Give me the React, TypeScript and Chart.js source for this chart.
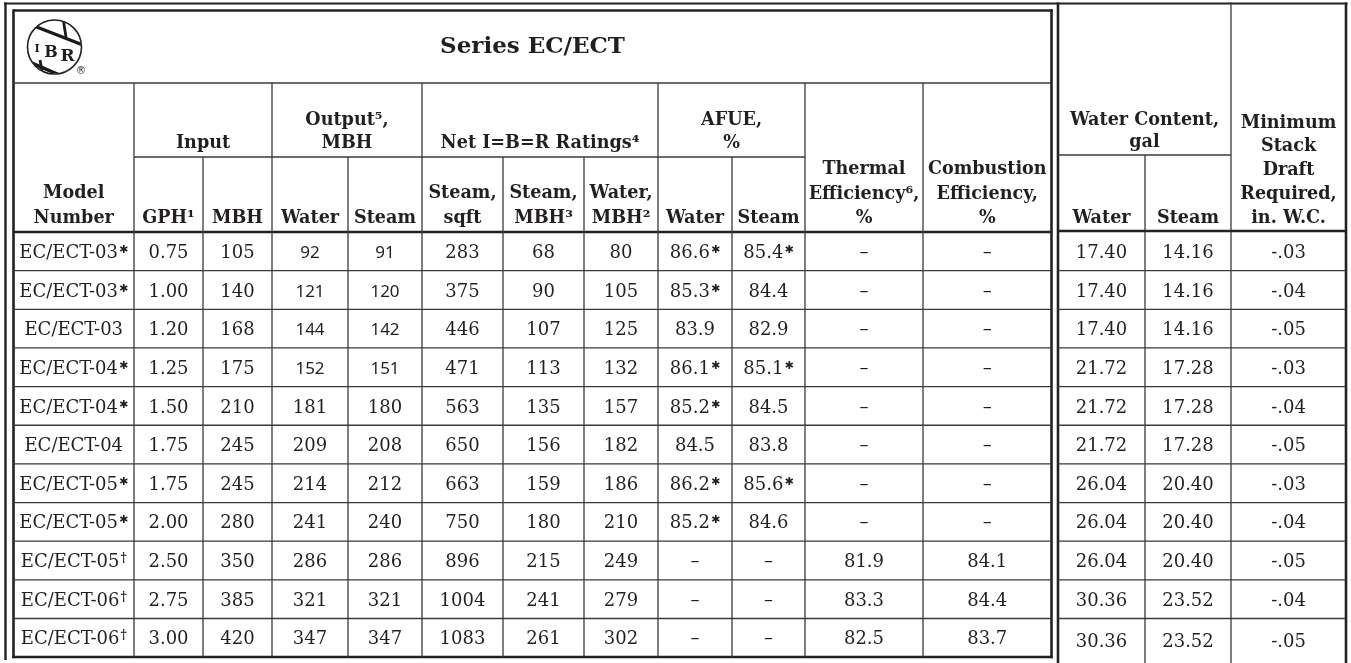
import React, { useEffect, useRef } from "react";
import { Chart, registerables } from "chart.js";

Chart.register(...registerables);

const W = 1351;
const H = 663;

// ---------- data ----------
const models = ["EC/ECT-03", "EC/ECT-03", "EC/ECT-03", "EC/ECT-04", "EC/ECT-04", "EC/ECT-04", "EC/ECT-05", "EC/ECT-05", "EC/ECT-05", "EC/ECT-06", "EC/ECT-06"];
const modelMarks = ["✱", "✱", "", "✱", "✱", "", "✱", "✱", "†", "†", "†"];
const inputGph = [0.75, 1.0, 1.2, 1.25, 1.5, 1.75, 1.75, 2.0, 2.5, 2.75, 3.0];
const inputMbh = [105, 140, 168, 175, 210, 245, 245, 280, 350, 385, 420];
const outputWater = [92, 121, 144, 152, 181, 209, 214, 241, 286, 321, 347];
const outputSteam = [91, 120, 142, 151, 180, 208, 212, 240, 286, 321, 347];
const netSteamSqft = [283, 375, 446, 471, 563, 650, 663, 750, 896, 1004, 1083];
const netSteamMbh = [68, 90, 107, 113, 135, 156, 159, 180, 215, 241, 261];
const netWaterMbh = [80, 105, 125, 132, 157, 182, 186, 210, 249, 279, 302];
const afueWater: (number | null)[] = [86.6, 85.3, 83.9, 86.1, 85.2, 84.5, 86.2, 85.2, null, null, null];
const afueWaterMarks = ["✱", "✱", "", "✱", "✱", "", "✱", "✱", "", "", ""];
const afueSteam: (number | null)[] = [85.4, 84.4, 82.9, 85.1, 84.5, 83.8, 85.6, 84.6, null, null, null];
const afueSteamMarks = ["✱", "", "", "✱", "", "", "✱", "", "", "", ""];
const thermalEff: (number | null)[] = [null, null, null, null, null, null, null, null, 81.9, 83.3, 82.5];
const combustionEff: (number | null)[] = [null, null, null, null, null, null, null, null, 84.1, 84.4, 83.7];
const waterContentWater = [17.4, 17.4, 17.4, 21.72, 21.72, 21.72, 26.04, 26.04, 26.04, 30.36, 30.36];
const waterContentSteam = [14.16, 14.16, 14.16, 17.28, 17.28, 17.28, 20.4, 20.4, 20.4, 23.52, 23.52];
const stackDraft = [-0.03, -0.04, -0.05, -0.03, -0.04, -0.05, -0.03, -0.04, -0.05, -0.04, -0.05];

const title = "Series EC/ECT";

// ---------- layout (table units = px) ----------
const L_COLS = [13.5, 134, 203, 272, 348, 422, 503, 584, 658, 732, 805, 923, 1051.5];
const R_COLS = [1058, 1145, 1231, 1346];
const TITLE_BOTTOM = 83;
const GROUP_LINE = 157;
const HEAD_BOTTOM = 232;
const R_GROUP_LINE = 155;
const R_HEAD_BOTTOM = 231;
const ROW_H = 38.65;
const NROWS = models.length;

const INK = "#231f20";
const GRID = "#3a3a3a";
const HFONT = "bold 17.6px 'DejaVu Serif'";
const BFONT = "18px 'DejaVu Serif'";
const SANSFONT = "17px 'Noto Sans'";
const STARFONT = "bold 11px 'DejaVu Sans'";
const DAGGERFONT = "bold 12px 'DejaVu Serif'";

type HeadCell = { x0: number; x1: number; lines: string[]; base: number[] };
const headerCells: HeadCell[] = [
  { x0: L_COLS[0], x1: L_COLS[1], lines: ["Model", "Number"], base: [198, 223] },
  { x0: L_COLS[1], x1: L_COLS[3], lines: ["Input"], base: [148] },
  { x0: L_COLS[1], x1: L_COLS[2], lines: ["GPH¹"], base: [223] },
  { x0: L_COLS[2], x1: L_COLS[3], lines: ["MBH"], base: [223] },
  { x0: L_COLS[3], x1: L_COLS[5], lines: ["Output⁵,", "MBH"], base: [125, 148] },
  { x0: L_COLS[3], x1: L_COLS[4], lines: ["Water"], base: [223] },
  { x0: L_COLS[4], x1: L_COLS[5], lines: ["Steam"], base: [223] },
  { x0: L_COLS[5], x1: L_COLS[8], lines: ["Net I=B=R Ratings⁴"], base: [148] },
  { x0: L_COLS[5], x1: L_COLS[6], lines: ["Steam,", "sqft"], base: [198, 223] },
  { x0: L_COLS[6], x1: L_COLS[7], lines: ["Steam,", "MBH³"], base: [198, 223] },
  { x0: L_COLS[7], x1: L_COLS[8], lines: ["Water,", "MBH²"], base: [198, 223] },
  { x0: L_COLS[8], x1: L_COLS[10], lines: ["AFUE,", "%"], base: [125, 148] },
  { x0: L_COLS[8], x1: L_COLS[9], lines: ["Water"], base: [223] },
  { x0: L_COLS[9], x1: L_COLS[10], lines: ["Steam"], base: [223] },
  { x0: L_COLS[10], x1: L_COLS[11], lines: ["Thermal", "Efficiency⁶,", "%"], base: [174, 199, 223] },
  { x0: L_COLS[11], x1: L_COLS[12], lines: ["Combustion", "Efficiency,", "%"], base: [174, 199, 223] },
  { x0: R_COLS[0], x1: R_COLS[2], lines: ["Water Content,", "gal"], base: [125, 147] },
  { x0: R_COLS[0], x1: R_COLS[1], lines: ["Water"], base: [223] },
  { x0: R_COLS[1], x1: R_COLS[2], lines: ["Steam"], base: [223] },
  { x0: R_COLS[2], x1: R_COLS[3], lines: ["Minimum", "Stack", "Draft", "Required,", "in. W.C."], base: [128, 151, 175, 199, 223] },
];

const fmtDash = (v: number | null, d: number) => (v === null ? "–" : v.toFixed(d));
const fmtDraft = (v: number) => v.toFixed(2).replace("0.", ".");

const tablePlugin = {
  id: "specTable",
  beforeDraw(chart: any) {
    const ctx = chart.ctx;
    ctx.save();
    ctx.fillStyle = "#ffffff";
    ctx.fillRect(0, 0, chart.width, chart.height);
    ctx.restore();
  },
  afterDraw(chart: any) {
    const ctx: CanvasRenderingContext2D = chart.ctx;
    const xs = chart.scales.x;
    const ys = chart.scales.y;
    const px = (v: number) => xs.getPixelForValue(v);
    const py = (v: number) => ys.getPixelForValue(v);

    const line = (x0: number, y0: number, x1: number, y1: number, lw: number, color = GRID) => {
      ctx.beginPath();
      ctx.strokeStyle = color;
      ctx.lineWidth = lw;
      ctx.moveTo(px(x0), py(y0));
      ctx.lineTo(px(x1), py(y1));
      ctx.stroke();
    };
    const text = (s: string, cx: number, base: number, font: string) => {
      ctx.font = font;
      ctx.fillStyle = INK;
      ctx.textAlign = "center";
      ctx.textBaseline = "alphabetic";
      ctx.fillText(s, px(cx), py(base));
    };
    const markedText = (s: string, mark: string, cx: number, base: number, font: string) => {
      ctx.textBaseline = "alphabetic";
      ctx.fillStyle = INK;
      ctx.font = font;
      const w1 = ctx.measureText(s).width;
      const mFont = mark === "†" ? DAGGERFONT : STARFONT;
      const raise = 5;
      ctx.font = mFont;
      const w2 = mark ? ctx.measureText(mark).width + 1 : 0;
      const start = px(cx) - (w1 + w2) / 2;
      ctx.textAlign = "left";
      ctx.font = font;
      ctx.fillText(s, start, py(base));
      if (mark) {
        ctx.font = mFont;
        ctx.fillText(mark, start + w1 + 1, py(base) - raise);
      }
    };

    ctx.save();

    // ---------- frames ----------
    ctx.lineCap = "butt";
    line(4, 3.5, 1347.5, 3.5, 2.2, "#222");
    line(5.5, 2.5, 5.5, 660, 2.4, "#222");
    line(L_COLS[0], 10.5, L_COLS[12] + 1.2, 10.5, 2.4, "#222");
    line(L_COLS[0], 9.3, L_COLS[0], 658.2, 2.6, "#222");
    line(L_COLS[12], 9.3, L_COLS[12], 658.2, 2.6, "#222");
    line(L_COLS[0] - 1.2, 657, L_COLS[12] + 1.2, 657, 2.6, "#222");
    line(R_COLS[0], 2.5, R_COLS[0], H, 2.6, "#222");
    line(R_COLS[3], 2.5, R_COLS[3], H, 2.6, "#222");

    // ---------- left table grid ----------
    line(L_COLS[0], TITLE_BOTTOM, L_COLS[12], TITLE_BOTTOM, 1.3);
    line(L_COLS[1], GROUP_LINE, L_COLS[10], GROUP_LINE, 1.3);
    line(L_COLS[0], HEAD_BOTTOM, L_COLS[12], HEAD_BOTTOM, 2.4, "#222");
    const groupStarts = [1, 3, 5, 8, 10, 11];
    for (let c = 1; c < 12; c++) {
      const top = groupStarts.includes(c) ? TITLE_BOTTOM : GROUP_LINE;
      line(L_COLS[c], top, L_COLS[c], 657, 1.3);
    }
    for (let r = 1; r < NROWS; r++) {
      const yy = HEAD_BOTTOM + r * ROW_H;
      line(L_COLS[0], yy, L_COLS[12], yy, 1.3);
    }

    // ---------- right table grid ----------
    line(R_COLS[0], R_GROUP_LINE, R_COLS[2], R_GROUP_LINE, 1.3);
    line(R_COLS[1], R_GROUP_LINE, R_COLS[1], H, 1.3);
    line(R_COLS[2], 2.5, R_COLS[2], H, 1.3);
    line(R_COLS[0], R_HEAD_BOTTOM, R_COLS[3], R_HEAD_BOTTOM, 2.4, "#222");
    for (let r = 1; r < NROWS; r++) {
      const yy = HEAD_BOTTOM + r * ROW_H;
      line(R_COLS[0], yy, R_COLS[3], yy, 1.3);
    }

    // ---------- logo ----------
    const lx = px(54.5), ly = py(47);
    ctx.beginPath();
    ctx.strokeStyle = "#222";
    ctx.lineWidth = 1.6;
    ctx.arc(lx, ly, 27, 0, Math.PI * 2);
    ctx.stroke();
    ctx.save();
    ctx.beginPath();
    ctx.arc(lx, ly, 26.5, 0, Math.PI * 2);
    ctx.clip();
    ctx.lineWidth = 3.4;
    ctx.strokeStyle = "#1a1a1a";
    ctx.beginPath();
    ctx.moveTo(px(29), py(24)); ctx.lineTo(px(83), py(45));
    ctx.moveTo(px(27), py(61)); ctx.lineTo(px(78), py(83));
    ctx.stroke();
    ctx.lineWidth = 2.8;
    ctx.beginPath();
    ctx.moveTo(px(63), py(18)); ctx.lineTo(px(66), py(37));
    ctx.moveTo(px(40), py(60)); ctx.lineTo(px(43), py(77));
    ctx.stroke();
    ctx.restore();
    ctx.fillStyle = INK;
    ctx.textAlign = "center";
    ctx.font = "bold 11px 'DejaVu Serif'";
    ctx.fillText("I", px(37), py(52));
    ctx.font = "bold 16px 'DejaVu Serif'";
    ctx.fillText("B", px(51), py(57));
    ctx.font = "bold 17px 'DejaVu Serif'";
    ctx.fillText("R", px(67.5), py(61));
    ctx.font = "10px 'DejaVu Sans'";
    ctx.fillText("®", px(81), py(74));

    // ---------- title ----------
    text(title, (L_COLS[0] + L_COLS[12]) / 2, 53, "bold 23px 'DejaVu Serif'");

    // ---------- headers ----------
    for (const h of headerCells) {
      h.lines.forEach((s, i) => text(s, (h.x0 + h.x1) / 2, h.base[i], HFONT));
    }

    // ---------- body ----------
    const mid = (arr: number[], c: number) => (arr[c] + arr[c + 1]) / 2;
    for (let r = 0; r < NROWS; r++) {
      const top = HEAD_BOTTOM + r * ROW_H;
      const bottom = r === NROWS - 1 ? 657 : top + ROW_H;
      const cy = (top + bottom) / 2;
      const base = cy + 6.6;
      markedText(models[r], modelMarks[r], mid(L_COLS, 0), base, BFONT);
      text(inputGph[r].toFixed(2), mid(L_COLS, 1), base, BFONT);
      text(String(inputMbh[r]), mid(L_COLS, 2), base, BFONT);
      const outFont = r < 4 ? SANSFONT : BFONT;
      text(String(outputWater[r]), mid(L_COLS, 3), base, outFont);
      text(String(outputSteam[r]), mid(L_COLS, 4), base, outFont);
      text(String(netSteamSqft[r]), mid(L_COLS, 5), base, BFONT);
      text(String(netSteamMbh[r]), mid(L_COLS, 6), base, BFONT);
      text(String(netWaterMbh[r]), mid(L_COLS, 7), base, BFONT);
      markedText(fmtDash(afueWater[r], 1), afueWaterMarks[r], mid(L_COLS, 8), base, BFONT);
      markedText(fmtDash(afueSteam[r], 1), afueSteamMarks[r], mid(L_COLS, 9), base, BFONT);
      text(fmtDash(thermalEff[r], 1), mid(L_COLS, 10), base, BFONT);
      text(fmtDash(combustionEff[r], 1), mid(L_COLS, 11), base, BFONT);

      const rBottom = r === NROWS - 1 ? H : top + ROW_H;
      const rBase = (top + rBottom) / 2 + 6.6;
      text(waterContentWater[r].toFixed(2), mid(R_COLS, 0), rBase, BFONT);
      text(waterContentSteam[r].toFixed(2), mid(R_COLS, 1), rBase, BFONT);
      text(fmtDraft(stackDraft[r]), mid(R_COLS, 2), rBase, BFONT);
    }

    ctx.restore();
  },
};

export default function App() {
  const ref = useRef<HTMLCanvasElement | null>(null);
  useEffect(() => {
    document.body.style.margin = "0";
    const canvas = ref.current;
    if (!canvas) return;
    const chart = new Chart(canvas, {
      type: "scatter",
      data: { datasets: [{ data: [], pointRadius: 0 }] },
      options: {
        animation: false,
        responsive: false,
        devicePixelRatio: 1,
        layout: { padding: 0 },
        events: [],
        plugins: { legend: { display: false }, tooltip: { enabled: false } },
        scales: {
          x: { type: "linear", min: 0, max: W, display: false },
          y: { type: "linear", min: 0, max: H, reverse: true, display: false },
        },
      },
      plugins: [tablePlugin],
    });
    return () => chart.destroy();
  }, []);
  return (
    <div style={{ width: W, height: H, background: "#fff" }}>
      <canvas ref={ref} width={W} height={H} style={{ display: "block" }} />
    </div>
  );
}
